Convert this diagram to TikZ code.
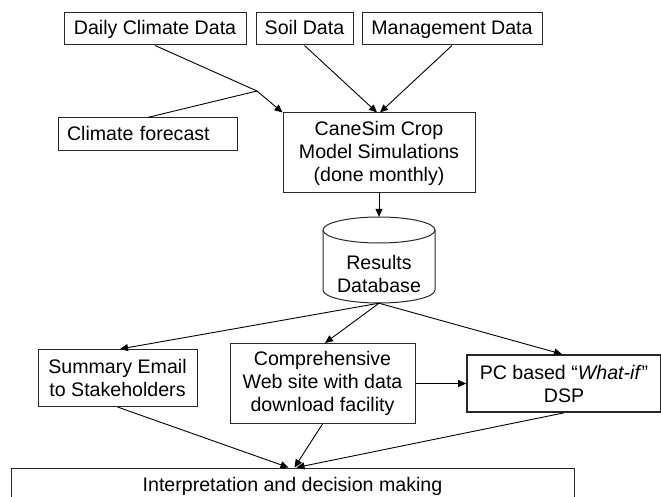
\documentclass[tikz,border=0pt]{standalone}
\usepackage{fontspec}
\setmainfont{Liberation Sans}
\usetikzlibrary{arrows.meta}
\definecolor{edge}{RGB}{40,40,40}
\begin{document}
\begin{tikzpicture}[x=1pt,y=-1pt,
  box/.style={draw=edge,line width=1pt,inner sep=0pt,align=center,
    font=\fontsize{19.6}{23}\selectfont},
  oneline/.style={text height=16pt,text depth=4pt},
  conn/.style={draw=black,line width=0.9pt},
  arr/.style={conn,-{Triangle[length=8pt,width=7pt]}}]
\useasboundingbox (0,0) rectangle (661,497);
\clip (0,0) rectangle (661,497);
\fill[white] (0,0) rectangle (661,497);
\node[box,oneline,minimum width=182pt,minimum height=32pt] (daily) at (155,29) {Daily Climate Data};
\node[box,oneline,minimum width=97pt,minimum height=32pt] (soil) at (304.5,29) {Soil Data};
\node[box,oneline,minimum width=180pt,minimum height=32pt] (mgmt) at (452,29) {Management Data};
\node[box,oneline,minimum height=33pt,text width=161pt,inner xsep=9pt,align=left] (fore) at (147.5,134.5) {Climate forecast};
\node[box,minimum width=192pt,minimum height=80pt] (cane) at (379,153) {CaneSim Crop\\Model Simulations\\(done monthly)};
% database cylinder
\node[inner sep=0pt,minimum width=112pt,minimum height=86pt] (db) at (379,260) {};
\draw[draw=edge,line width=1pt] (323,230) -- (323,290) arc[start angle=180,end angle=360,x radius=56,y radius=-13] -- (435,230);
\draw[draw=edge,line width=1pt] (379,230) ellipse[x radius=56,y radius=13];
\node[inner sep=0pt,align=center,font=\fontsize{19.6}{23}\selectfont] (dbt) at (379,274) {Results\\Database};
\node[box,minimum width=159pt,minimum height=57pt] (email) at (117.5,378) {Summary Email\\to Stakeholders};
\node[box,minimum width=185pt,minimum height=80pt] (web) at (322.5,383.5) {Comprehensive\\Web site with data\\download facility};
\node[box,line width=1.7pt,minimum width=194pt,minimum height=57pt] (pc) at (564,383.5) {PC based “\textit{What-if}”\\DSP};
\node[box,oneline,minimum width=563pt,minimum height=34pt] (interp) at (292.5,485) {Interpretation and decision making};
\coordinate (j) at (257,91);
% connectors
\draw[conn] (daily.south) -- (j);
\draw[conn] (fore.north) -- (j);
\draw[arr] (j) -- (cane.north west);
\draw[arr] (soil.south) -- ([xshift=-2pt]cane.north);
\draw[arr] (mgmt.south) -- ([xshift=1pt]cane.north);
\draw[arr] (cane.south) -- (db.north);
\draw[arr] (db.south) -- ([xshift=2.5pt]email.north);
\draw[arr] (db.south) -- ([xshift=2.5pt]web.north);
\draw[arr] (db.south) -- ([xshift=-2pt]pc.north);
\draw[arr] (web.east) -- (pc.west);
\draw[arr] (email.south) -- ([xshift=-4pt]interp.north);
\draw[arr] (web.south) -- ([xshift=2pt]interp.north);
\draw[arr] (pc.south) -- ([xshift=4pt]interp.north);
\end{tikzpicture}
\end{document}
